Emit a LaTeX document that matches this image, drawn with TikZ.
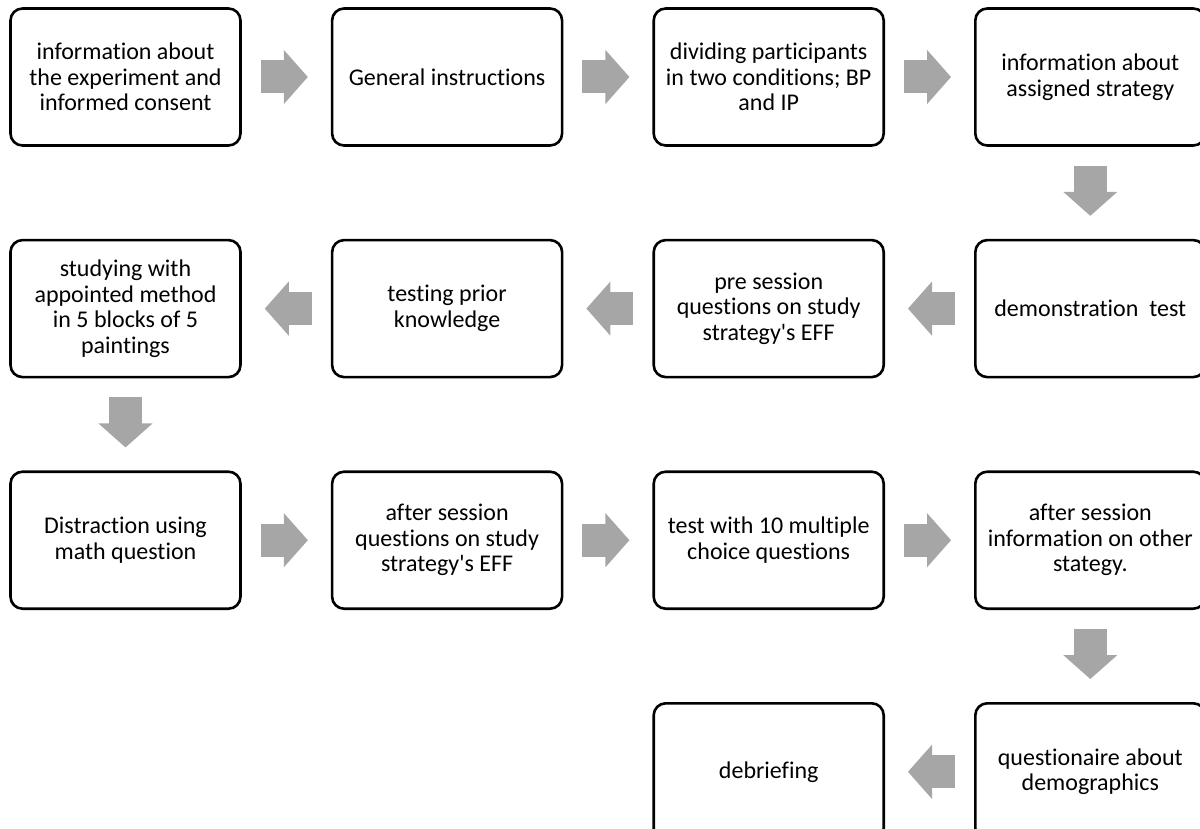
\documentclass[tikz,border=0pt]{standalone}
\usepackage{fontspec}
\setmainfont{Carlito}[Ligatures={NoCommon}]
\usepackage{tikz}
\usepackage{xcolor}
\usetikzlibrary{positioning,arrows.meta}
\definecolor{arrowgray}{RGB}{166, 166, 166}

\tikzset{
  stepbox/.style={draw=black, line width=1.3pt, rounded corners=6pt,
    minimum width=115pt, minimum height=68.5pt, align=center,
    font=\fontsize{12}{12.8}\selectfont},
  flow/.style={draw=arrowgray, line width=16.5pt,
    -{Triangle[length=12pt, width=27pt, line width=0.6pt]},
    shorten <=9.5pt, shorten >=11.5pt}
}

\begin{document}
\begin{tikzpicture}[node distance=46pt and 44.5pt]
                \useasboundingbox (0,0) rectangle (600pt,-414.5pt);
                \clip (0,0) rectangle (600pt,-414.5pt);
                % first row
                \node[stepbox] (info) at (62.75pt,-38.5pt) {information about\\the experiment and\\informed consent};
                \node[stepbox, right=of info] (general) {General instructions};
                \node[stepbox, right=of general] (dividing) {dividing participants\\in two conditions; BP\\and IP};
                \node[stepbox, right=of dividing] (strategy) {information about\\assigned strategy};
                % second row
                \node[stepbox, below=of strategy] (demo) {demonstration\ \ test};
                \node[stepbox, left=of demo] (pre) {pre session\\questions on study\\strategy\textquotesingle s EFF};
                \node[stepbox, left=of pre] (prior) {testing prior\\knowledge};
                \node[stepbox, left=of prior] (studying) {studying with\\appointed method\\in 5 blocks of 5\\paintings};
                % third row
                \node[stepbox, below=of studying] (distraction) {Distraction using\\math question};
                \node[stepbox, right=of distraction] (after) {after session\\questions on study\\strategy\textquotesingle s EFF};
                \node[stepbox, right=of after] (mcq) {test with 10 multiple\\choice questions};
                \node[stepbox, right=of mcq] (other) {after session\\information on other\\stategy.};
                % fourth row
                \node[stepbox, below=of other] (questionaire) {questionaire about\\demographics};
                \node[stepbox, left=of questionaire] (debrief) {debriefing};
                \foreach \a/\b in {info/general, general/dividing, dividing/strategy, strategy/demo,
                  demo/pre, pre/prior, prior/studying, studying/distraction,
                  distraction/after, after/mcq, mcq/other, other/questionaire, questionaire/debrief}
                  \draw[flow] (\a) -- (\b);
            \end{tikzpicture}
\end{document}
